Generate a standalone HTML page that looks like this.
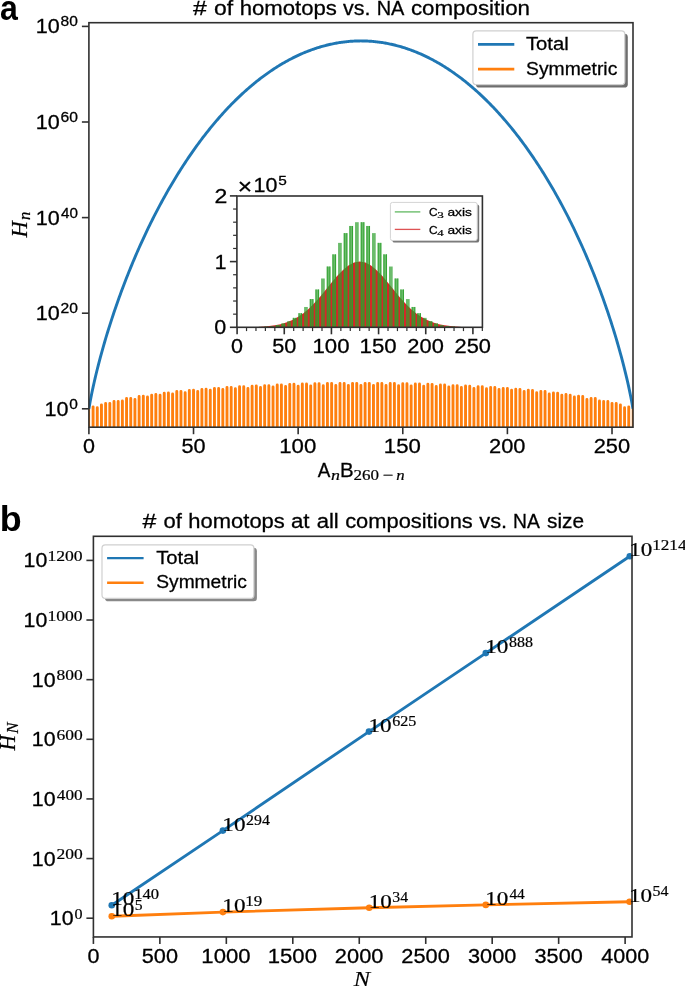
<!DOCTYPE html>
<html><head><meta charset="utf-8"><style>html,body{margin:0;padding:0;background:#fff;overflow:hidden;}svg{display:block;will-change:transform;}</style></head>
<body><svg width="685" height="987" viewBox="0 0 685 987">
<rect width="685" height="987" fill="#fff"/>
<text x="-0.04" y="19.75" font-family="'Liberation Sans', sans-serif" font-weight="bold" font-style="normal" font-size="35" textLength="17.84" lengthAdjust="spacingAndGlyphs" fill="#000">a</text>
<text x="-0.37" y="530.95" font-family="'Liberation Sans', sans-serif" font-weight="bold" font-style="normal" font-size="35.8" textLength="21.94" lengthAdjust="spacingAndGlyphs" fill="#000">b</text>
<clipPath id="cb"><rect x="88.9" y="22.7" width="544.10" height="404.50"/></clipPath>
<path clip-path="url(#cb)" d="M93.09 429.2V406.85M97.27 429.2V407.65M101.46 429.2V404.85M105.64 429.2V403.55M109.83 429.2V403.35M114.01 429.2V401.45M118.20 429.2V401.45M122.38 429.2V401.05M126.56 429.2V398.55M130.75 429.2V398.55M134.94 429.2V399.45M139.12 429.2V396.45M143.31 429.2V396.15M147.49 429.2V396.95M151.68 429.2V395.15M155.86 429.2V394.55M160.05 429.2V395.25M164.23 429.2V393.25M168.41 429.2V393.05M172.60 429.2V393.95M176.78 429.2V391.55M180.97 429.2V391.55M185.16 429.2V392.75M189.34 429.2V390.45M193.52 429.2V390.15M197.71 429.2V391.55M201.89 429.2V389.45M206.08 429.2V389.15M210.26 429.2V390.25M214.45 429.2V388.45M218.63 429.2V388.45M222.82 429.2V389.45M227.00 429.2V387.45M231.19 429.2V387.45M235.38 429.2V388.75M239.56 429.2V386.65M243.75 429.2V386.65M247.93 429.2V388.45M252.11 429.2V386.15M256.30 429.2V385.95M260.49 429.2V387.45M264.67 429.2V385.65M268.86 429.2V385.65M273.04 429.2V386.95M277.23 429.2V384.95M281.41 429.2V384.95M285.60 429.2V386.45M289.78 429.2V384.35M293.96 429.2V384.25M298.15 429.2V386.15M302.33 429.2V384.05M306.52 429.2V384.05M310.70 429.2V385.85M314.89 429.2V383.75M319.07 429.2V383.75M323.26 429.2V385.65M327.44 429.2V383.45M331.63 429.2V383.45M335.81 429.2V385.55M340.00 429.2V383.45M344.18 429.2V383.45M348.37 429.2V385.35M352.55 429.2V383.35M356.74 429.2V383.35M360.92 429.2V385.35M365.11 429.2V383.35M369.29 429.2V383.35M373.48 429.2V385.35M377.66 429.2V383.45M381.85 429.2V383.45M386.03 429.2V385.55M390.22 429.2V383.45M394.40 429.2V383.45M398.59 429.2V385.65M402.77 429.2V383.75M406.96 429.2V383.75M411.14 429.2V385.85M415.33 429.2V384.05M419.51 429.2V384.05M423.70 429.2V386.15M427.88 429.2V384.25M432.07 429.2V384.35M436.25 429.2V386.45M440.44 429.2V384.95M444.62 429.2V384.95M448.81 429.2V386.95M453.00 429.2V385.65M457.18 429.2V385.65M461.37 429.2V387.45M465.55 429.2V385.95M469.74 429.2V386.15M473.92 429.2V388.45M478.11 429.2V386.65M482.29 429.2V386.65M486.48 429.2V388.75M490.66 429.2V387.45M494.84 429.2V387.45M499.03 429.2V389.45M503.21 429.2V388.45M507.40 429.2V388.45M511.58 429.2V390.25M515.77 429.2V389.15M519.95 429.2V389.45M524.14 429.2V391.55M528.32 429.2V390.15M532.51 429.2V390.45M536.69 429.2V392.75M540.88 429.2V391.55M545.06 429.2V391.55M549.25 429.2V393.95M553.43 429.2V393.05M557.62 429.2V393.25M561.80 429.2V395.25M565.99 429.2V394.55M570.17 429.2V395.15M574.36 429.2V396.95M578.54 429.2V396.15M582.73 429.2V396.45M586.91 429.2V399.45M591.10 429.2V398.55M595.28 429.2V398.55M599.47 429.2V401.05M603.65 429.2V401.45M607.84 429.2V401.45M612.02 429.2V403.35M616.21 429.2V403.55M620.39 429.2V404.85M624.58 429.2V407.65M628.76 429.2V406.85" stroke="#ff7f0e" stroke-width="2.9" stroke-linecap="round" fill="none"/>
<path d="M89.40 427.2V408.80M632.45 427.2V408.80" stroke="#ff7f0e" stroke-width="1.4" fill="none"/>
<clipPath id="ca"><rect x="88.9" y="22.7" width="544.1" height="404.5"/></clipPath>
<polyline clip-path="url(#ca)" points="88.90,408.80 89.95,402.78 90.99,397.26 92.04,392.08 93.09,387.16 94.13,382.45 95.18,377.91 96.22,373.53 97.27,369.27 98.32,365.13 99.36,361.10 100.41,357.16 101.46,353.32 102.50,349.55 103.55,345.86 104.59,342.24 105.64,338.69 106.69,335.20 107.73,331.77 108.78,328.40 109.83,325.08 110.87,321.82 111.92,318.60 112.96,315.43 114.01,312.30 115.06,309.22 116.10,306.18 117.15,303.18 118.20,300.22 119.24,297.30 120.29,294.42 121.33,291.57 122.38,288.75 123.43,285.97 124.47,283.22 125.52,280.51 126.56,277.82 127.61,275.16 128.66,272.54 129.70,269.94 130.75,267.37 131.80,264.83 132.84,262.31 133.89,259.82 134.94,257.36 135.98,254.92 137.03,252.51 138.07,250.12 139.12,247.76 140.17,245.41 141.21,243.10 142.26,240.80 143.31,238.53 144.35,236.27 145.40,234.04 146.44,231.83 147.49,229.64 148.54,227.48 149.58,225.33 150.63,223.20 151.68,221.09 152.72,219.00 153.77,216.93 154.81,214.88 155.86,212.84 156.91,210.83 157.95,208.83 159.00,206.85 160.05,204.89 161.09,202.95 162.14,201.02 163.18,199.11 164.23,197.21 165.28,195.34 166.32,193.48 167.37,191.63 168.41,189.80 169.46,187.99 170.51,186.19 171.55,184.41 172.60,182.64 173.65,180.89 174.69,179.16 175.74,177.44 176.78,175.73 177.83,174.04 178.88,172.36 179.92,170.70 180.97,169.05 182.02,167.41 183.06,165.79 184.11,164.18 185.16,162.59 186.20,161.01 187.25,159.44 188.29,157.89 189.34,156.35 190.39,154.82 191.43,153.31 192.48,151.81 193.52,150.32 194.57,148.84 195.62,147.38 196.66,145.93 197.71,144.49 198.76,143.07 199.80,141.65 200.85,140.25 201.89,138.87 202.94,137.49 203.99,136.12 205.03,134.77 206.08,133.43 207.13,132.10 208.17,130.78 209.22,129.48 210.26,128.18 211.31,126.90 212.36,125.63 213.40,124.37 214.45,123.12 215.50,121.88 216.54,120.65 217.59,119.44 218.63,118.23 219.68,117.04 220.73,115.85 221.77,114.68 222.82,113.52 223.87,112.37 224.91,111.23 225.96,110.10 227.00,108.98 228.05,107.87 229.10,106.77 230.14,105.69 231.19,104.61 232.24,103.54 233.28,102.48 234.33,101.44 235.38,100.40 236.42,99.37 237.47,98.36 238.51,97.35 239.56,96.35 240.61,95.37 241.65,94.39 242.70,93.42 243.75,92.46 244.79,91.52 245.84,90.58 246.88,89.65 247.93,88.73 248.98,87.82 250.02,86.92 251.07,86.03 252.11,85.15 253.16,84.28 254.21,83.42 255.25,82.57 256.30,81.73 257.35,80.89 258.39,80.07 259.44,79.25 260.49,78.45 261.53,77.65 262.58,76.86 263.62,76.09 264.67,75.32 265.72,74.56 266.76,73.81 267.81,73.06 268.86,72.33 269.90,71.61 270.95,70.89 271.99,70.19 273.04,69.49 274.09,68.80 275.13,68.12 276.18,67.45 277.23,66.79 278.27,66.14 279.32,65.49 280.36,64.86 281.41,64.23 282.46,63.61 283.50,63.00 284.55,62.40 285.60,61.81 286.64,61.22 287.69,60.65 288.73,60.08 289.78,59.53 290.83,58.98 291.87,58.44 292.92,57.90 293.96,57.38 295.01,56.86 296.06,56.36 297.10,55.86 298.15,55.37 299.20,54.89 300.24,54.41 301.29,53.95 302.33,53.49 303.38,53.04 304.43,52.60 305.47,52.17 306.52,51.75 307.57,51.33 308.61,50.93 309.66,50.53 310.70,50.14 311.75,49.76 312.80,49.38 313.84,49.02 314.89,48.66 315.94,48.31 316.98,47.97 318.03,47.64 319.07,47.31 320.12,46.99 321.17,46.69 322.21,46.39 323.26,46.09 324.31,45.81 325.35,45.53 326.40,45.26 327.44,45.00 328.49,44.75 329.54,44.51 330.58,44.27 331.63,44.05 332.68,43.83 333.72,43.62 334.77,43.41 335.81,43.22 336.86,43.03 337.91,42.85 338.95,42.68 340.00,42.51 341.05,42.36 342.09,42.21 343.14,42.07 344.18,41.94 345.23,41.82 346.28,41.70 347.32,41.59 348.37,41.50 349.42,41.40 350.46,41.32 351.51,41.24 352.55,41.18 353.60,41.12 354.65,41.07 355.69,41.02 356.74,40.99 357.79,40.96 358.83,40.94 359.88,40.93 360.92,40.92 361.97,40.93 363.02,40.94 364.06,40.96 365.11,40.99 366.16,41.02 367.20,41.07 368.25,41.12 369.29,41.18 370.34,41.24 371.39,41.32 372.43,41.40 373.48,41.50 374.53,41.59 375.57,41.70 376.62,41.82 377.66,41.94 378.71,42.07 379.76,42.21 380.80,42.36 381.85,42.51 382.90,42.68 383.94,42.85 384.99,43.03 386.03,43.22 387.08,43.41 388.13,43.62 389.17,43.83 390.22,44.05 391.27,44.27 392.31,44.51 393.36,44.75 394.40,45.00 395.45,45.26 396.50,45.53 397.54,45.81 398.59,46.09 399.64,46.39 400.68,46.69 401.73,46.99 402.77,47.31 403.82,47.64 404.87,47.97 405.91,48.31 406.96,48.66 408.01,49.02 409.05,49.38 410.10,49.76 411.14,50.14 412.19,50.53 413.24,50.93 414.28,51.33 415.33,51.75 416.38,52.17 417.42,52.60 418.47,53.04 419.51,53.49 420.56,53.95 421.61,54.41 422.65,54.89 423.70,55.37 424.75,55.86 425.79,56.36 426.84,56.86 427.88,57.38 428.93,57.90 429.98,58.44 431.02,58.98 432.07,59.53 433.12,60.08 434.16,60.65 435.21,61.22 436.25,61.81 437.30,62.40 438.35,63.00 439.39,63.61 440.44,64.23 441.49,64.86 442.53,65.49 443.58,66.14 444.62,66.79 445.67,67.45 446.72,68.12 447.76,68.80 448.81,69.49 449.86,70.19 450.90,70.89 451.95,71.61 453.00,72.33 454.04,73.06 455.09,73.81 456.13,74.56 457.18,75.32 458.23,76.09 459.27,76.86 460.32,77.65 461.37,78.45 462.41,79.25 463.46,80.07 464.50,80.89 465.55,81.73 466.60,82.57 467.64,83.42 468.69,84.28 469.74,85.15 470.78,86.03 471.83,86.92 472.87,87.82 473.92,88.73 474.97,89.65 476.01,90.58 477.06,91.52 478.11,92.46 479.15,93.42 480.20,94.39 481.24,95.37 482.29,96.35 483.34,97.35 484.38,98.36 485.43,99.37 486.48,100.40 487.52,101.44 488.57,102.48 489.61,103.54 490.66,104.61 491.71,105.69 492.75,106.77 493.80,107.87 494.84,108.98 495.89,110.10 496.94,111.23 497.98,112.37 499.03,113.52 500.08,114.68 501.12,115.85 502.17,117.04 503.21,118.23 504.26,119.44 505.31,120.65 506.35,121.88 507.40,123.12 508.45,124.37 509.49,125.63 510.54,126.90 511.58,128.18 512.63,129.48 513.68,130.78 514.72,132.10 515.77,133.43 516.82,134.77 517.86,136.12 518.91,137.49 519.95,138.87 521.00,140.25 522.05,141.65 523.09,143.07 524.14,144.49 525.19,145.93 526.23,147.38 527.28,148.84 528.32,150.32 529.37,151.81 530.42,153.31 531.46,154.82 532.51,156.35 533.56,157.89 534.60,159.44 535.65,161.01 536.69,162.59 537.74,164.18 538.79,165.79 539.83,167.41 540.88,169.05 541.93,170.70 542.97,172.36 544.02,174.04 545.06,175.73 546.11,177.44 547.16,179.16 548.20,180.89 549.25,182.64 550.30,184.41 551.34,186.19 552.39,187.99 553.43,189.80 554.48,191.63 555.53,193.48 556.57,195.34 557.62,197.21 558.67,199.11 559.71,201.02 560.76,202.95 561.80,204.89 562.85,206.85 563.90,208.83 564.94,210.83 565.99,212.84 567.04,214.88 568.08,216.93 569.13,219.00 570.17,221.09 571.22,223.20 572.27,225.33 573.31,227.48 574.36,229.64 575.41,231.83 576.45,234.04 577.50,236.27 578.54,238.53 579.59,240.80 580.64,243.10 581.68,245.41 582.73,247.76 583.78,250.12 584.82,252.51 585.87,254.92 586.91,257.36 587.96,259.82 589.01,262.31 590.05,264.83 591.10,267.37 592.15,269.94 593.19,272.54 594.24,275.16 595.28,277.82 596.33,280.51 597.38,283.22 598.42,285.97 599.47,288.75 600.52,291.57 601.56,294.42 602.61,297.30 603.65,300.22 604.70,303.18 605.75,306.18 606.79,309.22 607.84,312.30 608.89,315.43 609.93,318.60 610.98,321.82 612.02,325.08 613.07,328.40 614.12,331.77 615.16,335.20 616.21,338.69 617.26,342.24 618.30,345.86 619.35,349.55 620.39,353.32 621.44,357.16 622.49,361.10 623.53,365.13 624.58,369.27 625.63,373.53 626.67,377.91 627.72,382.45 628.76,387.16 629.81,392.08 630.86,397.26 631.90,402.78 632.95,408.80" fill="none" stroke="#1f77b4" stroke-width="2.9" stroke-linejoin="round"/>
<rect x="88.9" y="22.7" width="544.10" height="404.50" fill="none" stroke="#303030" stroke-width="1.6"/>
<line x1="81.9" y1="408.80" x2="88.9" y2="408.80" stroke="#303030" stroke-width="1.6"/>
<text x="69.30" y="408.80" font-family="'Liberation Sans', sans-serif" font-weight="normal" font-style="normal" font-size="14.0" textLength="8.61" lengthAdjust="spacingAndGlyphs" fill="#000" stroke="#000" stroke-width="0.28">0</text>
<text x="44.46" y="415.80" font-family="'Liberation Sans', sans-serif" font-weight="normal" font-style="normal" font-size="19.6" textLength="23.98" lengthAdjust="spacingAndGlyphs" fill="#000" stroke="#000" stroke-width="0.28">10</text>
<line x1="81.9" y1="313.20" x2="88.9" y2="313.20" stroke="#303030" stroke-width="1.6"/>
<text x="60.51" y="313.20" font-family="'Liberation Sans', sans-serif" font-weight="normal" font-style="normal" font-size="14.0" textLength="17.40" lengthAdjust="spacingAndGlyphs" fill="#000" stroke="#000" stroke-width="0.28">20</text>
<text x="35.86" y="320.20" font-family="'Liberation Sans', sans-serif" font-weight="normal" font-style="normal" font-size="19.6" textLength="23.98" lengthAdjust="spacingAndGlyphs" fill="#000" stroke="#000" stroke-width="0.28">10</text>
<line x1="81.9" y1="217.60" x2="88.9" y2="217.60" stroke="#303030" stroke-width="1.6"/>
<text x="60.95" y="217.60" font-family="'Liberation Sans', sans-serif" font-weight="normal" font-style="normal" font-size="14.0" textLength="16.94" lengthAdjust="spacingAndGlyphs" fill="#000" stroke="#000" stroke-width="0.28">40</text>
<text x="35.86" y="224.60" font-family="'Liberation Sans', sans-serif" font-weight="normal" font-style="normal" font-size="19.6" textLength="23.98" lengthAdjust="spacingAndGlyphs" fill="#000" stroke="#000" stroke-width="0.28">10</text>
<line x1="81.9" y1="122.00" x2="88.9" y2="122.00" stroke="#303030" stroke-width="1.6"/>
<text x="60.51" y="122.00" font-family="'Liberation Sans', sans-serif" font-weight="normal" font-style="normal" font-size="14.0" textLength="17.41" lengthAdjust="spacingAndGlyphs" fill="#000" stroke="#000" stroke-width="0.28">60</text>
<text x="35.86" y="129.00" font-family="'Liberation Sans', sans-serif" font-weight="normal" font-style="normal" font-size="19.6" textLength="23.98" lengthAdjust="spacingAndGlyphs" fill="#000" stroke="#000" stroke-width="0.28">10</text>
<line x1="81.9" y1="26.40" x2="88.9" y2="26.40" stroke="#303030" stroke-width="1.6"/>
<text x="60.62" y="26.40" font-family="'Liberation Sans', sans-serif" font-weight="normal" font-style="normal" font-size="14.0" textLength="17.28" lengthAdjust="spacingAndGlyphs" fill="#000" stroke="#000" stroke-width="0.28">80</text>
<text x="35.86" y="33.40" font-family="'Liberation Sans', sans-serif" font-weight="normal" font-style="normal" font-size="19.6" textLength="23.98" lengthAdjust="spacingAndGlyphs" fill="#000" stroke="#000" stroke-width="0.28">10</text>
<line x1="88.90" y1="427.2" x2="88.90" y2="434.2" stroke="#303030" stroke-width="1.6"/>
<text x="82.91" y="453.30" font-family="'Liberation Sans', sans-serif" font-weight="normal" font-style="normal" font-size="19.6" textLength="11.98" lengthAdjust="spacingAndGlyphs" fill="#000" stroke="#000" stroke-width="0.28">0</text>
<line x1="193.52" y1="427.2" x2="193.52" y2="434.2" stroke="#303030" stroke-width="1.6"/>
<text x="181.46" y="453.30" font-family="'Liberation Sans', sans-serif" font-weight="normal" font-style="normal" font-size="19.6" textLength="24.11" lengthAdjust="spacingAndGlyphs" fill="#000" stroke="#000" stroke-width="0.28">50</text>
<line x1="298.15" y1="427.2" x2="298.15" y2="434.2" stroke="#303030" stroke-width="1.6"/>
<text x="279.21" y="453.30" font-family="'Liberation Sans', sans-serif" font-weight="normal" font-style="normal" font-size="19.6" textLength="37.06" lengthAdjust="spacingAndGlyphs" fill="#000" stroke="#000" stroke-width="0.28">100</text>
<line x1="402.77" y1="427.2" x2="402.77" y2="434.2" stroke="#303030" stroke-width="1.6"/>
<text x="383.83" y="453.30" font-family="'Liberation Sans', sans-serif" font-weight="normal" font-style="normal" font-size="19.6" textLength="37.06" lengthAdjust="spacingAndGlyphs" fill="#000" stroke="#000" stroke-width="0.28">150</text>
<line x1="507.40" y1="427.2" x2="507.40" y2="434.2" stroke="#303030" stroke-width="1.6"/>
<text x="489.05" y="453.30" font-family="'Liberation Sans', sans-serif" font-weight="normal" font-style="normal" font-size="19.6" textLength="36.45" lengthAdjust="spacingAndGlyphs" fill="#000" stroke="#000" stroke-width="0.28">200</text>
<line x1="612.02" y1="427.2" x2="612.02" y2="434.2" stroke="#303030" stroke-width="1.6"/>
<text x="593.68" y="453.30" font-family="'Liberation Sans', sans-serif" font-weight="normal" font-style="normal" font-size="19.6" textLength="36.45" lengthAdjust="spacingAndGlyphs" fill="#000" stroke="#000" stroke-width="0.28">250</text>
<text x="192.99" y="14.80" font-family="'Liberation Sans', sans-serif" font-weight="normal" font-style="normal" font-size="20" textLength="13.73" lengthAdjust="spacingAndGlyphs" fill="#000" stroke="#000" stroke-width="0.28">#</text>
<text x="214.04" y="14.80" font-family="'Liberation Sans', sans-serif" font-weight="normal" font-style="normal" font-size="20" textLength="19.13" lengthAdjust="spacingAndGlyphs" fill="#000" stroke="#000" stroke-width="0.28">of</text>
<text x="239.66" y="14.80" font-family="'Liberation Sans', sans-serif" font-weight="normal" font-style="normal" font-size="20" textLength="97.24" lengthAdjust="spacingAndGlyphs" fill="#000" stroke="#000" stroke-width="0.28">homotops</text>
<text x="343.03" y="14.80" font-family="'Liberation Sans', sans-serif" font-weight="normal" font-style="normal" font-size="20" textLength="27.43" lengthAdjust="spacingAndGlyphs" fill="#000" stroke="#000" stroke-width="0.28">vs.</text>
<text x="376.66" y="14.80" font-family="'Liberation Sans', sans-serif" font-weight="normal" font-style="normal" font-size="20" textLength="27.78" lengthAdjust="spacingAndGlyphs" fill="#000" stroke="#000" stroke-width="0.28">NA</text>
<text x="410.95" y="14.80" font-family="'Liberation Sans', sans-serif" font-weight="normal" font-style="normal" font-size="20" textLength="119.10" lengthAdjust="spacingAndGlyphs" fill="#000" stroke="#000" stroke-width="0.28">composition</text>
<text x="317.66" y="476.80" font-family="'Liberation Sans', sans-serif" font-weight="normal" font-style="normal" font-size="20" textLength="12.57" lengthAdjust="spacingAndGlyphs" fill="#000" stroke="#000" stroke-width="0.28">A</text>
<text x="330.96" y="479.50" font-family="'Liberation Serif', serif" font-weight="normal" font-style="italic" font-size="14.5" textLength="8.99" lengthAdjust="spacingAndGlyphs" fill="#000" stroke="#000" stroke-width="0.2">n</text>
<text x="339.92" y="476.80" font-family="'Liberation Sans', sans-serif" font-weight="normal" font-style="normal" font-size="20" textLength="13.66" lengthAdjust="spacingAndGlyphs" fill="#000" stroke="#000" stroke-width="0.28">B</text>
<text x="353.45" y="480.20" font-family="'Liberation Serif', serif" font-weight="normal" font-style="normal" font-size="15" textLength="25.49" lengthAdjust="spacingAndGlyphs" fill="#000" stroke="#000" stroke-width="0.2">260</text>
<text x="382.56" y="479.80" font-family="'Liberation Serif', serif" font-weight="normal" font-style="normal" font-size="15" textLength="10.67" lengthAdjust="spacingAndGlyphs" fill="#000" stroke="#000" stroke-width="0.2">−</text>
<text x="396.30" y="479.50" font-family="'Liberation Serif', serif" font-weight="normal" font-style="italic" font-size="14.5" textLength="8.40" lengthAdjust="spacingAndGlyphs" fill="#000" stroke="#000" stroke-width="0.2">n</text>
<g transform="translate(27.1,237.7) rotate(-90)">
<text x="0.24" y="0.00" font-family="'Liberation Serif', serif" font-weight="normal" font-style="italic" font-size="22.7" textLength="16.34" lengthAdjust="spacingAndGlyphs" fill="#000" stroke="#000" stroke-width="0.2">H</text>
<text x="17.81" y="2.90" font-family="'Liberation Serif', serif" font-weight="normal" font-style="italic" font-size="16.4" textLength="8.28" lengthAdjust="spacingAndGlyphs" fill="#000" stroke="#000" stroke-width="0.2">n</text>
</g>
<rect x="475.9" y="33.8" width="151.9" height="53.8" rx="3.4" fill="#555" fill-opacity="0.85"/>
<rect x="472.9" y="30.8" width="151.9" height="53.8" rx="3.4" fill="#fff" stroke="#d0d0d0" stroke-width="1.2"/>
<line x1="478.0" y1="44.4" x2="514.3" y2="44.4" stroke="#1f77b4" stroke-width="2.9"/>
<line x1="478.0" y1="69.1" x2="514.3" y2="69.1" stroke="#ff7f0e" stroke-width="2.9"/>
<text x="525.97" y="50.10" font-family="'Liberation Sans', sans-serif" font-weight="normal" font-style="normal" font-size="18.3" textLength="42.82" lengthAdjust="spacingAndGlyphs" fill="#000" stroke="#000" stroke-width="0.28">Total</text>
<text x="526.02" y="74.60" font-family="'Liberation Sans', sans-serif" font-weight="normal" font-style="normal" font-size="18.3" textLength="91.29" lengthAdjust="spacingAndGlyphs" fill="#000" stroke="#000" stroke-width="0.28">Symmetric</text>
<rect x="236.9" y="196.0" width="245.50" height="131.30" fill="#fff"/>
<polygon points="237.10,327.3 240.87,327.23 246.53,327.17 252.19,327.06 257.85,326.88 263.51,326.57 269.17,326.08 274.83,325.32 280.49,324.19 286.15,322.57 291.81,320.32 297.46,317.32 303.12,313.45 308.78,308.69 314.44,303.05 320.10,296.67 325.76,289.79 331.42,282.79 337.08,276.09 342.74,270.19 348.40,265.57 354.06,262.62 359.72,261.60 365.38,262.62 371.03,265.57 376.69,270.19 382.35,276.09 388.01,282.79 393.67,289.79 399.33,296.67 404.99,303.05 410.65,308.69 416.31,313.45 421.97,317.32 427.63,320.32 433.29,322.57 438.94,324.19 444.60,325.32 450.26,326.08 455.92,326.57 461.58,326.88 467.24,327.06 472.90,327.17 478.56,327.23 482.33,327.3" fill="#d62728"/>
<g fill="#2ca02c" fill-opacity="0.7"><rect x="258.83" y="326.91" width="3.7" height="0.39"/><rect x="264.49" y="326.57" width="3.7" height="0.73"/><rect x="270.15" y="325.99" width="3.7" height="1.31"/><rect x="275.81" y="325.03" width="3.7" height="2.27"/><rect x="281.47" y="323.51" width="3.7" height="3.79"/><rect x="287.13" y="321.21" width="3.7" height="6.09"/><rect x="292.79" y="317.86" width="3.7" height="9.44"/><rect x="298.44" y="313.19" width="3.7" height="14.11"/><rect x="304.10" y="306.98" width="3.7" height="20.32"/><rect x="309.76" y="299.07" width="3.7" height="28.23"/><rect x="315.42" y="289.49" width="3.7" height="37.81"/><rect x="321.08" y="278.48" width="3.7" height="48.82"/><rect x="326.74" y="266.52" width="3.7" height="60.78"/><rect x="332.40" y="254.35" width="3.7" height="72.95"/><rect x="338.06" y="242.88" width="3.7" height="84.42"/><rect x="343.72" y="233.11" width="3.7" height="94.19"/><rect x="349.38" y="225.97" width="3.7" height="101.33"/><rect x="355.04" y="222.20" width="3.7" height="105.10"/><rect x="360.70" y="222.20" width="3.7" height="105.10"/><rect x="366.35" y="225.97" width="3.7" height="101.33"/><rect x="372.01" y="233.11" width="3.7" height="94.19"/><rect x="377.67" y="242.88" width="3.7" height="84.42"/><rect x="383.33" y="254.35" width="3.7" height="72.95"/><rect x="388.99" y="266.52" width="3.7" height="60.78"/><rect x="394.65" y="278.48" width="3.7" height="48.82"/><rect x="400.31" y="289.49" width="3.7" height="37.81"/><rect x="405.97" y="299.07" width="3.7" height="28.23"/><rect x="411.63" y="306.98" width="3.7" height="20.32"/><rect x="417.29" y="313.19" width="3.7" height="14.11"/><rect x="422.95" y="317.86" width="3.7" height="9.44"/><rect x="428.61" y="321.21" width="3.7" height="6.09"/><rect x="434.27" y="323.51" width="3.7" height="3.79"/><rect x="439.92" y="325.03" width="3.7" height="2.27"/><rect x="445.58" y="325.99" width="3.7" height="1.31"/><rect x="451.24" y="326.57" width="3.7" height="0.73"/><rect x="456.90" y="326.91" width="3.7" height="0.39"/></g>
<path d="M259.38 327.3V326.91M261.98 327.3V326.91M265.04 327.3V326.57M267.64 327.3V326.57M276.36 327.3V325.03M278.96 327.3V325.03M282.02 327.3V323.51M284.62 327.3V323.51M293.34 327.3V317.86M295.94 327.3V317.86M298.99 327.3V313.19M301.59 327.3V313.19M310.31 327.3V299.07M312.91 327.3V299.07M315.97 327.3V289.49M318.57 327.3V289.49M327.29 327.3V266.52M329.89 327.3V266.52M332.95 327.3V254.35M335.55 327.3V254.35M344.27 327.3V233.11M346.87 327.3V233.11M349.93 327.3V225.97M352.53 327.3V225.97M361.25 327.3V222.20M363.85 327.3V222.20M366.90 327.3V225.97M369.50 327.3V225.97M378.22 327.3V242.88M380.82 327.3V242.88M383.88 327.3V254.35M386.48 327.3V254.35M395.20 327.3V278.48M397.80 327.3V278.48M400.86 327.3V289.49M403.46 327.3V289.49M412.18 327.3V306.98M414.78 327.3V306.98M417.84 327.3V313.19M420.44 327.3V313.19M429.16 327.3V321.21M431.76 327.3V321.21M434.82 327.3V323.51M437.42 327.3V323.51M446.13 327.3V325.99M448.73 327.3V325.99M451.79 327.3V326.57M454.39 327.3V326.57" stroke="#2ca02c" stroke-opacity="0.85" stroke-width="1.0" fill="none"/>
<rect x="236.9" y="196.0" width="245.50" height="131.30" fill="none" stroke="#303030" stroke-width="1.6"/>
<line x1="229.9" y1="327.30" x2="236.9" y2="327.30" stroke="#303030" stroke-width="1.6"/>
<text x="214.36" y="334.30" font-family="'Liberation Sans', sans-serif" font-weight="normal" font-style="normal" font-size="19.6" textLength="11.98" lengthAdjust="spacingAndGlyphs" fill="#000" stroke="#000" stroke-width="0.28">0</text>
<line x1="229.9" y1="261.60" x2="236.9" y2="261.60" stroke="#303030" stroke-width="1.6"/>
<text x="214.79" y="268.60" font-family="'Liberation Sans', sans-serif" font-weight="normal" font-style="normal" font-size="19.6" textLength="11.74" lengthAdjust="spacingAndGlyphs" fill="#000" stroke="#000" stroke-width="0.28">1</text>
<line x1="229.9" y1="195.90" x2="236.9" y2="195.90" stroke="#303030" stroke-width="1.6"/>
<text x="214.64" y="202.90" font-family="'Liberation Sans', sans-serif" font-weight="normal" font-style="normal" font-size="19.6" textLength="12.82" lengthAdjust="spacingAndGlyphs" fill="#000" stroke="#000" stroke-width="0.28">2</text>
<line x1="233.1" y1="314.16" x2="236.9" y2="314.16" stroke="#303030" stroke-width="1.2"/>
<line x1="233.1" y1="301.02" x2="236.9" y2="301.02" stroke="#303030" stroke-width="1.2"/>
<line x1="233.1" y1="287.88" x2="236.9" y2="287.88" stroke="#303030" stroke-width="1.2"/>
<line x1="233.1" y1="274.74" x2="236.9" y2="274.74" stroke="#303030" stroke-width="1.2"/>
<line x1="233.1" y1="248.46" x2="236.9" y2="248.46" stroke="#303030" stroke-width="1.2"/>
<line x1="233.1" y1="235.32" x2="236.9" y2="235.32" stroke="#303030" stroke-width="1.2"/>
<line x1="233.1" y1="222.18" x2="236.9" y2="222.18" stroke="#303030" stroke-width="1.2"/>
<line x1="233.1" y1="209.04" x2="236.9" y2="209.04" stroke="#303030" stroke-width="1.2"/>
<line x1="237.10" y1="327.3" x2="237.10" y2="334.3" stroke="#303030" stroke-width="1.6"/>
<text x="231.11" y="353.40" font-family="'Liberation Sans', sans-serif" font-weight="normal" font-style="normal" font-size="19.6" textLength="11.98" lengthAdjust="spacingAndGlyphs" fill="#000" stroke="#000" stroke-width="0.28">0</text>
<line x1="246.53" y1="327.3" x2="246.53" y2="331.1" stroke="#303030" stroke-width="1.2"/>
<line x1="255.96" y1="327.3" x2="255.96" y2="331.1" stroke="#303030" stroke-width="1.2"/>
<line x1="265.40" y1="327.3" x2="265.40" y2="331.1" stroke="#303030" stroke-width="1.2"/>
<line x1="274.83" y1="327.3" x2="274.83" y2="331.1" stroke="#303030" stroke-width="1.2"/>
<line x1="284.26" y1="327.3" x2="284.26" y2="334.3" stroke="#303030" stroke-width="1.6"/>
<text x="272.19" y="353.40" font-family="'Liberation Sans', sans-serif" font-weight="normal" font-style="normal" font-size="19.6" textLength="24.11" lengthAdjust="spacingAndGlyphs" fill="#000" stroke="#000" stroke-width="0.28">50</text>
<line x1="293.69" y1="327.3" x2="293.69" y2="331.1" stroke="#303030" stroke-width="1.2"/>
<line x1="303.12" y1="327.3" x2="303.12" y2="331.1" stroke="#303030" stroke-width="1.2"/>
<line x1="312.56" y1="327.3" x2="312.56" y2="331.1" stroke="#303030" stroke-width="1.2"/>
<line x1="321.99" y1="327.3" x2="321.99" y2="331.1" stroke="#303030" stroke-width="1.2"/>
<line x1="331.42" y1="327.3" x2="331.42" y2="334.3" stroke="#303030" stroke-width="1.6"/>
<text x="312.48" y="353.40" font-family="'Liberation Sans', sans-serif" font-weight="normal" font-style="normal" font-size="19.6" textLength="37.06" lengthAdjust="spacingAndGlyphs" fill="#000" stroke="#000" stroke-width="0.28">100</text>
<line x1="340.85" y1="327.3" x2="340.85" y2="331.1" stroke="#303030" stroke-width="1.2"/>
<line x1="350.28" y1="327.3" x2="350.28" y2="331.1" stroke="#303030" stroke-width="1.2"/>
<line x1="359.72" y1="327.3" x2="359.72" y2="331.1" stroke="#303030" stroke-width="1.2"/>
<line x1="369.15" y1="327.3" x2="369.15" y2="331.1" stroke="#303030" stroke-width="1.2"/>
<line x1="378.58" y1="327.3" x2="378.58" y2="334.3" stroke="#303030" stroke-width="1.6"/>
<text x="359.64" y="353.40" font-family="'Liberation Sans', sans-serif" font-weight="normal" font-style="normal" font-size="19.6" textLength="37.06" lengthAdjust="spacingAndGlyphs" fill="#000" stroke="#000" stroke-width="0.28">150</text>
<line x1="388.01" y1="327.3" x2="388.01" y2="331.1" stroke="#303030" stroke-width="1.2"/>
<line x1="397.44" y1="327.3" x2="397.44" y2="331.1" stroke="#303030" stroke-width="1.2"/>
<line x1="406.88" y1="327.3" x2="406.88" y2="331.1" stroke="#303030" stroke-width="1.2"/>
<line x1="416.31" y1="327.3" x2="416.31" y2="331.1" stroke="#303030" stroke-width="1.2"/>
<line x1="425.74" y1="327.3" x2="425.74" y2="334.3" stroke="#303030" stroke-width="1.6"/>
<text x="407.39" y="353.40" font-family="'Liberation Sans', sans-serif" font-weight="normal" font-style="normal" font-size="19.6" textLength="36.45" lengthAdjust="spacingAndGlyphs" fill="#000" stroke="#000" stroke-width="0.28">200</text>
<line x1="435.17" y1="327.3" x2="435.17" y2="331.1" stroke="#303030" stroke-width="1.2"/>
<line x1="444.60" y1="327.3" x2="444.60" y2="331.1" stroke="#303030" stroke-width="1.2"/>
<line x1="454.04" y1="327.3" x2="454.04" y2="331.1" stroke="#303030" stroke-width="1.2"/>
<line x1="463.47" y1="327.3" x2="463.47" y2="331.1" stroke="#303030" stroke-width="1.2"/>
<line x1="472.90" y1="327.3" x2="472.90" y2="334.3" stroke="#303030" stroke-width="1.6"/>
<text x="454.55" y="353.40" font-family="'Liberation Sans', sans-serif" font-weight="normal" font-style="normal" font-size="19.6" textLength="36.45" lengthAdjust="spacingAndGlyphs" fill="#000" stroke="#000" stroke-width="0.28">250</text>
<line x1="482.33" y1="327.3" x2="482.33" y2="331.1" stroke="#303030" stroke-width="1.2"/>
<text x="237.69" y="193.70" font-family="'Liberation Sans', sans-serif" font-weight="normal" font-style="normal" font-size="22.9" textLength="14.41" lengthAdjust="spacingAndGlyphs" fill="#000" stroke="#000" stroke-width="0.28">×</text>
<text x="253.57" y="192.40" font-family="'Liberation Sans', sans-serif" font-weight="normal" font-style="normal" font-size="19.6" textLength="23.87" lengthAdjust="spacingAndGlyphs" fill="#000" stroke="#000" stroke-width="0.28">10</text>
<text x="278.18" y="184.50" font-family="'Liberation Sans', sans-serif" font-weight="normal" font-style="normal" font-size="12.5" textLength="8.56" lengthAdjust="spacingAndGlyphs" fill="#000" stroke="#000" stroke-width="0.28">5</text>
<rect x="392.4" y="204.4" width="86.8" height="38.2" rx="2.2" fill="#5a5a5a" fill-opacity="0.85"/>
<rect x="390.4" y="202.4" width="86.8" height="38.2" rx="2.2" fill="#fff" stroke="#d4d4d4" stroke-width="1"/>
<line x1="394.8" y1="211.9" x2="420.3" y2="211.9" stroke="#2ca02c" stroke-opacity="0.75" stroke-width="1.3"/>
<line x1="394.8" y1="229.4" x2="420.3" y2="229.4" stroke="#d62728" stroke-opacity="0.8" stroke-width="1.3"/>
<text x="428.90" y="216.20" font-family="'Liberation Sans', sans-serif" font-weight="normal" font-style="normal" font-size="11.6" textLength="8.55" lengthAdjust="spacingAndGlyphs" fill="#000" stroke="#000" stroke-width="0.28">C</text>
<text x="437.17" y="218.00" font-family="'Liberation Serif', serif" font-weight="normal" font-style="normal" font-size="9.2" textLength="6.54" lengthAdjust="spacingAndGlyphs" fill="#000" stroke="#000" stroke-width="0.2">3</text>
<text x="447.42" y="216.20" font-family="'Liberation Sans', sans-serif" font-weight="normal" font-style="normal" font-size="11.6" textLength="24.48" lengthAdjust="spacingAndGlyphs" fill="#000" stroke="#000" stroke-width="0.28">axis</text>
<text x="428.90" y="233.80" font-family="'Liberation Sans', sans-serif" font-weight="normal" font-style="normal" font-size="11.6" textLength="8.55" lengthAdjust="spacingAndGlyphs" fill="#000" stroke="#000" stroke-width="0.28">C</text>
<text x="437.35" y="235.60" font-family="'Liberation Serif', serif" font-weight="normal" font-style="normal" font-size="9.2" textLength="6.35" lengthAdjust="spacingAndGlyphs" fill="#000" stroke="#000" stroke-width="0.2">4</text>
<text x="447.42" y="233.80" font-family="'Liberation Sans', sans-serif" font-weight="normal" font-style="normal" font-size="11.6" textLength="24.48" lengthAdjust="spacingAndGlyphs" fill="#000" stroke="#000" stroke-width="0.28">axis</text>
<polyline points="111.75,905.3 222.9,830.6 369.0,731.6 485.8,653.1 629.8,556.2" fill="none" stroke="#1f77b4" stroke-width="2.9"/>
<circle cx="111.75" cy="905.3" r="3.3" fill="#1f77b4"/>
<circle cx="222.9" cy="830.6" r="3.3" fill="#1f77b4"/>
<circle cx="369.0" cy="731.6" r="3.3" fill="#1f77b4"/>
<circle cx="485.8" cy="653.1" r="3.3" fill="#1f77b4"/>
<circle cx="629.8" cy="556.2" r="3.3" fill="#1f77b4"/>
<polyline points="111.75,916.3 222.9,912.1 369.2,907.7 485.8,904.9 629.6,901.8" fill="none" stroke="#ff7f0e" stroke-width="2.9"/>
<circle cx="111.75" cy="916.3" r="3.3" fill="#ff7f0e"/>
<circle cx="222.9" cy="912.1" r="3.3" fill="#ff7f0e"/>
<circle cx="369.2" cy="907.7" r="3.3" fill="#ff7f0e"/>
<circle cx="485.8" cy="904.9" r="3.3" fill="#ff7f0e"/>
<circle cx="629.6" cy="901.8" r="3.3" fill="#ff7f0e"/>
<rect x="93.4" y="536.3" width="538.60" height="400.65" fill="none" stroke="#303030" stroke-width="1.6"/>
<line x1="86.4" y1="918.20" x2="93.4" y2="918.20" stroke="#303030" stroke-width="1.6"/>
<text x="74.59" y="918.80" font-family="'Liberation Serif', serif" font-weight="normal" font-style="normal" font-size="14.5" textLength="8.02" lengthAdjust="spacingAndGlyphs" fill="#000" stroke="#000" stroke-width="0.2">0</text>
<text x="49.77" y="925.20" font-family="'Liberation Sans', sans-serif" font-weight="normal" font-style="normal" font-size="19.6" textLength="23.76" lengthAdjust="spacingAndGlyphs" fill="#000" stroke="#000" stroke-width="0.28">10</text>
<line x1="86.4" y1="858.57" x2="93.4" y2="858.57" stroke="#303030" stroke-width="1.6"/>
<text x="56.43" y="859.17" font-family="'Liberation Serif', serif" font-weight="normal" font-style="normal" font-size="14.5" textLength="26.23" lengthAdjust="spacingAndGlyphs" fill="#000" stroke="#000" stroke-width="0.2">200</text>
<text x="31.77" y="865.57" font-family="'Liberation Sans', sans-serif" font-weight="normal" font-style="normal" font-size="19.6" textLength="23.76" lengthAdjust="spacingAndGlyphs" fill="#000" stroke="#000" stroke-width="0.28">10</text>
<line x1="86.4" y1="798.93" x2="93.4" y2="798.93" stroke="#303030" stroke-width="1.6"/>
<text x="56.86" y="799.53" font-family="'Liberation Serif', serif" font-weight="normal" font-style="normal" font-size="14.5" textLength="25.79" lengthAdjust="spacingAndGlyphs" fill="#000" stroke="#000" stroke-width="0.2">400</text>
<text x="31.77" y="805.93" font-family="'Liberation Sans', sans-serif" font-weight="normal" font-style="normal" font-size="19.6" textLength="23.76" lengthAdjust="spacingAndGlyphs" fill="#000" stroke="#000" stroke-width="0.28">10</text>
<line x1="86.4" y1="739.30" x2="93.4" y2="739.30" stroke="#303030" stroke-width="1.6"/>
<text x="56.45" y="739.90" font-family="'Liberation Serif', serif" font-weight="normal" font-style="normal" font-size="14.5" textLength="26.22" lengthAdjust="spacingAndGlyphs" fill="#000" stroke="#000" stroke-width="0.2">600</text>
<text x="31.77" y="746.30" font-family="'Liberation Sans', sans-serif" font-weight="normal" font-style="normal" font-size="19.6" textLength="23.76" lengthAdjust="spacingAndGlyphs" fill="#000" stroke="#000" stroke-width="0.28">10</text>
<line x1="86.4" y1="679.66" x2="93.4" y2="679.66" stroke="#303030" stroke-width="1.6"/>
<text x="56.54" y="680.26" font-family="'Liberation Serif', serif" font-weight="normal" font-style="normal" font-size="14.5" textLength="26.13" lengthAdjust="spacingAndGlyphs" fill="#000" stroke="#000" stroke-width="0.2">800</text>
<text x="31.77" y="686.66" font-family="'Liberation Sans', sans-serif" font-weight="normal" font-style="normal" font-size="19.6" textLength="23.76" lengthAdjust="spacingAndGlyphs" fill="#000" stroke="#000" stroke-width="0.28">10</text>
<line x1="86.4" y1="620.03" x2="93.4" y2="620.03" stroke="#303030" stroke-width="1.6"/>
<text x="47.45" y="620.63" font-family="'Liberation Serif', serif" font-weight="normal" font-style="normal" font-size="14.5" textLength="35.22" lengthAdjust="spacingAndGlyphs" fill="#000" stroke="#000" stroke-width="0.2">1000</text>
<text x="23.57" y="627.03" font-family="'Liberation Sans', sans-serif" font-weight="normal" font-style="normal" font-size="19.6" textLength="23.76" lengthAdjust="spacingAndGlyphs" fill="#000" stroke="#000" stroke-width="0.28">10</text>
<line x1="86.4" y1="560.40" x2="93.4" y2="560.40" stroke="#303030" stroke-width="1.6"/>
<text x="47.45" y="561.00" font-family="'Liberation Serif', serif" font-weight="normal" font-style="normal" font-size="14.5" textLength="35.22" lengthAdjust="spacingAndGlyphs" fill="#000" stroke="#000" stroke-width="0.2">1200</text>
<text x="23.57" y="567.40" font-family="'Liberation Sans', sans-serif" font-weight="normal" font-style="normal" font-size="19.6" textLength="23.76" lengthAdjust="spacingAndGlyphs" fill="#000" stroke="#000" stroke-width="0.28">10</text>
<line x1="93.40" y1="936.95" x2="93.40" y2="943.95" stroke="#303030" stroke-width="1.6"/>
<text x="87.41" y="962.60" font-family="'Liberation Sans', sans-serif" font-weight="normal" font-style="normal" font-size="19.6" textLength="11.98" lengthAdjust="spacingAndGlyphs" fill="#000" stroke="#000" stroke-width="0.28">0</text>
<line x1="159.87" y1="936.95" x2="159.87" y2="943.95" stroke="#303030" stroke-width="1.6"/>
<text x="141.75" y="962.60" font-family="'Liberation Sans', sans-serif" font-weight="normal" font-style="normal" font-size="19.6" textLength="36.22" lengthAdjust="spacingAndGlyphs" fill="#000" stroke="#000" stroke-width="0.28">500</text>
<line x1="226.33" y1="936.95" x2="226.33" y2="943.95" stroke="#303030" stroke-width="1.6"/>
<text x="201.35" y="962.60" font-family="'Liberation Sans', sans-serif" font-weight="normal" font-style="normal" font-size="19.6" textLength="49.15" lengthAdjust="spacingAndGlyphs" fill="#000" stroke="#000" stroke-width="0.28">1000</text>
<line x1="292.79" y1="936.95" x2="292.79" y2="943.95" stroke="#303030" stroke-width="1.6"/>
<text x="267.81" y="962.60" font-family="'Liberation Sans', sans-serif" font-weight="normal" font-style="normal" font-size="19.6" textLength="49.15" lengthAdjust="spacingAndGlyphs" fill="#000" stroke="#000" stroke-width="0.28">1500</text>
<line x1="359.26" y1="936.95" x2="359.26" y2="943.95" stroke="#303030" stroke-width="1.6"/>
<text x="334.86" y="962.60" font-family="'Liberation Sans', sans-serif" font-weight="normal" font-style="normal" font-size="19.6" textLength="48.55" lengthAdjust="spacingAndGlyphs" fill="#000" stroke="#000" stroke-width="0.28">2000</text>
<line x1="425.73" y1="936.95" x2="425.73" y2="943.95" stroke="#303030" stroke-width="1.6"/>
<text x="401.33" y="962.60" font-family="'Liberation Sans', sans-serif" font-weight="normal" font-style="normal" font-size="19.6" textLength="48.55" lengthAdjust="spacingAndGlyphs" fill="#000" stroke="#000" stroke-width="0.28">2500</text>
<line x1="492.19" y1="936.95" x2="492.19" y2="943.95" stroke="#303030" stroke-width="1.6"/>
<text x="468.06" y="962.60" font-family="'Liberation Sans', sans-serif" font-weight="normal" font-style="normal" font-size="19.6" textLength="48.27" lengthAdjust="spacingAndGlyphs" fill="#000" stroke="#000" stroke-width="0.28">3000</text>
<line x1="558.65" y1="936.95" x2="558.65" y2="943.95" stroke="#303030" stroke-width="1.6"/>
<text x="534.53" y="962.60" font-family="'Liberation Sans', sans-serif" font-weight="normal" font-style="normal" font-size="19.6" textLength="48.27" lengthAdjust="spacingAndGlyphs" fill="#000" stroke="#000" stroke-width="0.28">3500</text>
<line x1="625.12" y1="936.95" x2="625.12" y2="943.95" stroke="#303030" stroke-width="1.6"/>
<text x="601.33" y="962.60" font-family="'Liberation Sans', sans-serif" font-weight="normal" font-style="normal" font-size="19.6" textLength="47.94" lengthAdjust="spacingAndGlyphs" fill="#000" stroke="#000" stroke-width="0.28">4000</text>
<text x="142.49" y="528.40" font-family="'Liberation Sans', sans-serif" font-weight="normal" font-style="normal" font-size="20" textLength="13.83" lengthAdjust="spacingAndGlyphs" fill="#000" stroke="#000" stroke-width="0.28">#</text>
<text x="163.57" y="528.40" font-family="'Liberation Sans', sans-serif" font-weight="normal" font-style="normal" font-size="20" textLength="18.39" lengthAdjust="spacingAndGlyphs" fill="#000" stroke="#000" stroke-width="0.28">of</text>
<text x="188.38" y="528.40" font-family="'Liberation Sans', sans-serif" font-weight="normal" font-style="normal" font-size="20" textLength="96.42" lengthAdjust="spacingAndGlyphs" fill="#000" stroke="#000" stroke-width="0.28">homotops</text>
<text x="290.95" y="528.40" font-family="'Liberation Sans', sans-serif" font-weight="normal" font-style="normal" font-size="20" textLength="18.61" lengthAdjust="spacingAndGlyphs" fill="#000" stroke="#000" stroke-width="0.28">at</text>
<text x="316.66" y="528.40" font-family="'Liberation Sans', sans-serif" font-weight="normal" font-style="normal" font-size="20" textLength="22.12" lengthAdjust="spacingAndGlyphs" fill="#000" stroke="#000" stroke-width="0.28">all</text>
<text x="345.17" y="528.40" font-family="'Liberation Sans', sans-serif" font-weight="normal" font-style="normal" font-size="20" textLength="127.62" lengthAdjust="spacingAndGlyphs" fill="#000" stroke="#000" stroke-width="0.28">compositions</text>
<text x="479.33" y="528.40" font-family="'Liberation Sans', sans-serif" font-weight="normal" font-style="normal" font-size="20" textLength="27.76" lengthAdjust="spacingAndGlyphs" fill="#000" stroke="#000" stroke-width="0.28">vs.</text>
<text x="513.12" y="528.40" font-family="'Liberation Sans', sans-serif" font-weight="normal" font-style="normal" font-size="20" textLength="26.82" lengthAdjust="spacingAndGlyphs" fill="#000" stroke="#000" stroke-width="0.28">NA</text>
<text x="547.02" y="528.40" font-family="'Liberation Sans', sans-serif" font-weight="normal" font-style="normal" font-size="20" textLength="37.00" lengthAdjust="spacingAndGlyphs" fill="#000" stroke="#000" stroke-width="0.28">size</text>
<text x="353.88" y="986.30" font-family="'Liberation Serif', serif" font-weight="normal" font-style="italic" font-size="21.8" textLength="16.29" lengthAdjust="spacingAndGlyphs" fill="#000" stroke="#000" stroke-width="0.2">N</text>
<g transform="translate(14.8,750.8) rotate(-90)">
<text x="0.23" y="0.00" font-family="'Liberation Serif', serif" font-weight="normal" font-style="italic" font-size="22.7" textLength="15.41" lengthAdjust="spacingAndGlyphs" fill="#000" stroke="#000" stroke-width="0.2">H</text>
<text x="17.22" y="3.00" font-family="'Liberation Serif', serif" font-weight="normal" font-style="italic" font-size="16.0" textLength="11.01" lengthAdjust="spacingAndGlyphs" fill="#000" stroke="#000" stroke-width="0.2">N</text>
</g>
<text x="111.22" y="905.40" font-family="'Liberation Serif', serif" font-weight="normal" font-style="normal" font-size="19.6" textLength="23.11" lengthAdjust="spacingAndGlyphs" fill="#000" stroke="#000" stroke-width="0.2">10</text>
<text x="134.19" y="899.20" font-family="'Liberation Serif', serif" font-weight="normal" font-style="normal" font-size="14.0" textLength="24.89" lengthAdjust="spacingAndGlyphs" fill="#000" stroke="#000" stroke-width="0.2">140</text>
<text x="222.37" y="830.70" font-family="'Liberation Serif', serif" font-weight="normal" font-style="normal" font-size="19.6" textLength="23.11" lengthAdjust="spacingAndGlyphs" fill="#000" stroke="#000" stroke-width="0.2">10</text>
<text x="246.10" y="824.50" font-family="'Liberation Serif', serif" font-weight="normal" font-style="normal" font-size="14.0" textLength="23.74" lengthAdjust="spacingAndGlyphs" fill="#000" stroke="#000" stroke-width="0.2">294</text>
<text x="368.47" y="731.70" font-family="'Liberation Serif', serif" font-weight="normal" font-style="normal" font-size="19.6" textLength="23.11" lengthAdjust="spacingAndGlyphs" fill="#000" stroke="#000" stroke-width="0.2">10</text>
<text x="392.21" y="725.50" font-family="'Liberation Serif', serif" font-weight="normal" font-style="normal" font-size="14.0" textLength="24.12" lengthAdjust="spacingAndGlyphs" fill="#000" stroke="#000" stroke-width="0.2">625</text>
<text x="485.27" y="653.20" font-family="'Liberation Serif', serif" font-weight="normal" font-style="normal" font-size="19.6" textLength="23.11" lengthAdjust="spacingAndGlyphs" fill="#000" stroke="#000" stroke-width="0.2">10</text>
<text x="509.09" y="647.00" font-family="'Liberation Serif', serif" font-weight="normal" font-style="normal" font-size="14.0" textLength="24.02" lengthAdjust="spacingAndGlyphs" fill="#000" stroke="#000" stroke-width="0.2">888</text>
<text x="629.27" y="556.30" font-family="'Liberation Serif', serif" font-weight="normal" font-style="normal" font-size="19.6" textLength="23.11" lengthAdjust="spacingAndGlyphs" fill="#000" stroke="#000" stroke-width="0.2">10</text>
<text x="652.19" y="550.10" font-family="'Liberation Serif', serif" font-weight="normal" font-style="normal" font-size="14.0" textLength="34.27" lengthAdjust="spacingAndGlyphs" fill="#000" stroke="#000" stroke-width="0.2">1214</text>
<text x="111.22" y="916.40" font-family="'Liberation Serif', serif" font-weight="normal" font-style="normal" font-size="19.6" textLength="23.11" lengthAdjust="spacingAndGlyphs" fill="#000" stroke="#000" stroke-width="0.2">10</text>
<text x="134.74" y="910.20" font-family="'Liberation Serif', serif" font-weight="normal" font-style="normal" font-size="14.0" textLength="7.82" lengthAdjust="spacingAndGlyphs" fill="#000" stroke="#000" stroke-width="0.2">5</text>
<text x="222.37" y="912.20" font-family="'Liberation Serif', serif" font-weight="normal" font-style="normal" font-size="19.6" textLength="23.11" lengthAdjust="spacingAndGlyphs" fill="#000" stroke="#000" stroke-width="0.2">10</text>
<text x="245.31" y="906.00" font-family="'Liberation Serif', serif" font-weight="normal" font-style="normal" font-size="14.0" textLength="16.99" lengthAdjust="spacingAndGlyphs" fill="#000" stroke="#000" stroke-width="0.2">19</text>
<text x="368.67" y="907.80" font-family="'Liberation Serif', serif" font-weight="normal" font-style="normal" font-size="19.6" textLength="23.11" lengthAdjust="spacingAndGlyphs" fill="#000" stroke="#000" stroke-width="0.2">10</text>
<text x="392.34" y="901.60" font-family="'Liberation Serif', serif" font-weight="normal" font-style="normal" font-size="14.0" textLength="15.80" lengthAdjust="spacingAndGlyphs" fill="#000" stroke="#000" stroke-width="0.2">34</text>
<text x="485.27" y="905.00" font-family="'Liberation Serif', serif" font-weight="normal" font-style="normal" font-size="19.6" textLength="23.11" lengthAdjust="spacingAndGlyphs" fill="#000" stroke="#000" stroke-width="0.2">10</text>
<text x="509.40" y="898.80" font-family="'Liberation Serif', serif" font-weight="normal" font-style="normal" font-size="14.0" textLength="15.34" lengthAdjust="spacingAndGlyphs" fill="#000" stroke="#000" stroke-width="0.2">44</text>
<text x="629.07" y="901.90" font-family="'Liberation Serif', serif" font-weight="normal" font-style="normal" font-size="19.6" textLength="23.11" lengthAdjust="spacingAndGlyphs" fill="#000" stroke="#000" stroke-width="0.2">10</text>
<text x="652.57" y="895.70" font-family="'Liberation Serif', serif" font-weight="normal" font-style="normal" font-size="14.0" textLength="15.98" lengthAdjust="spacingAndGlyphs" fill="#000" stroke="#000" stroke-width="0.2">54</text>
<rect x="105.0" y="547.8" width="151.9" height="53.5" rx="3.4" fill="#747474" fill-opacity="0.85"/>
<rect x="102.0" y="544.8" width="151.9" height="53.5" rx="3.4" fill="#fff" stroke="#d0d0d0" stroke-width="1.2"/>
<line x1="107.1" y1="558.1" x2="143.6" y2="558.1" stroke="#1f77b4" stroke-width="2.4"/>
<line x1="107.1" y1="582.8" x2="143.6" y2="582.8" stroke="#ff7f0e" stroke-width="2.4"/>
<text x="156.17" y="564.00" font-family="'Liberation Sans', sans-serif" font-weight="normal" font-style="normal" font-size="18.3" textLength="42.82" lengthAdjust="spacingAndGlyphs" fill="#000" stroke="#000" stroke-width="0.28">Total</text>
<text x="156.23" y="588.40" font-family="'Liberation Sans', sans-serif" font-weight="normal" font-style="normal" font-size="18.3" textLength="90.68" lengthAdjust="spacingAndGlyphs" fill="#000" stroke="#000" stroke-width="0.28">Symmetric</text>
</svg></body></html>
